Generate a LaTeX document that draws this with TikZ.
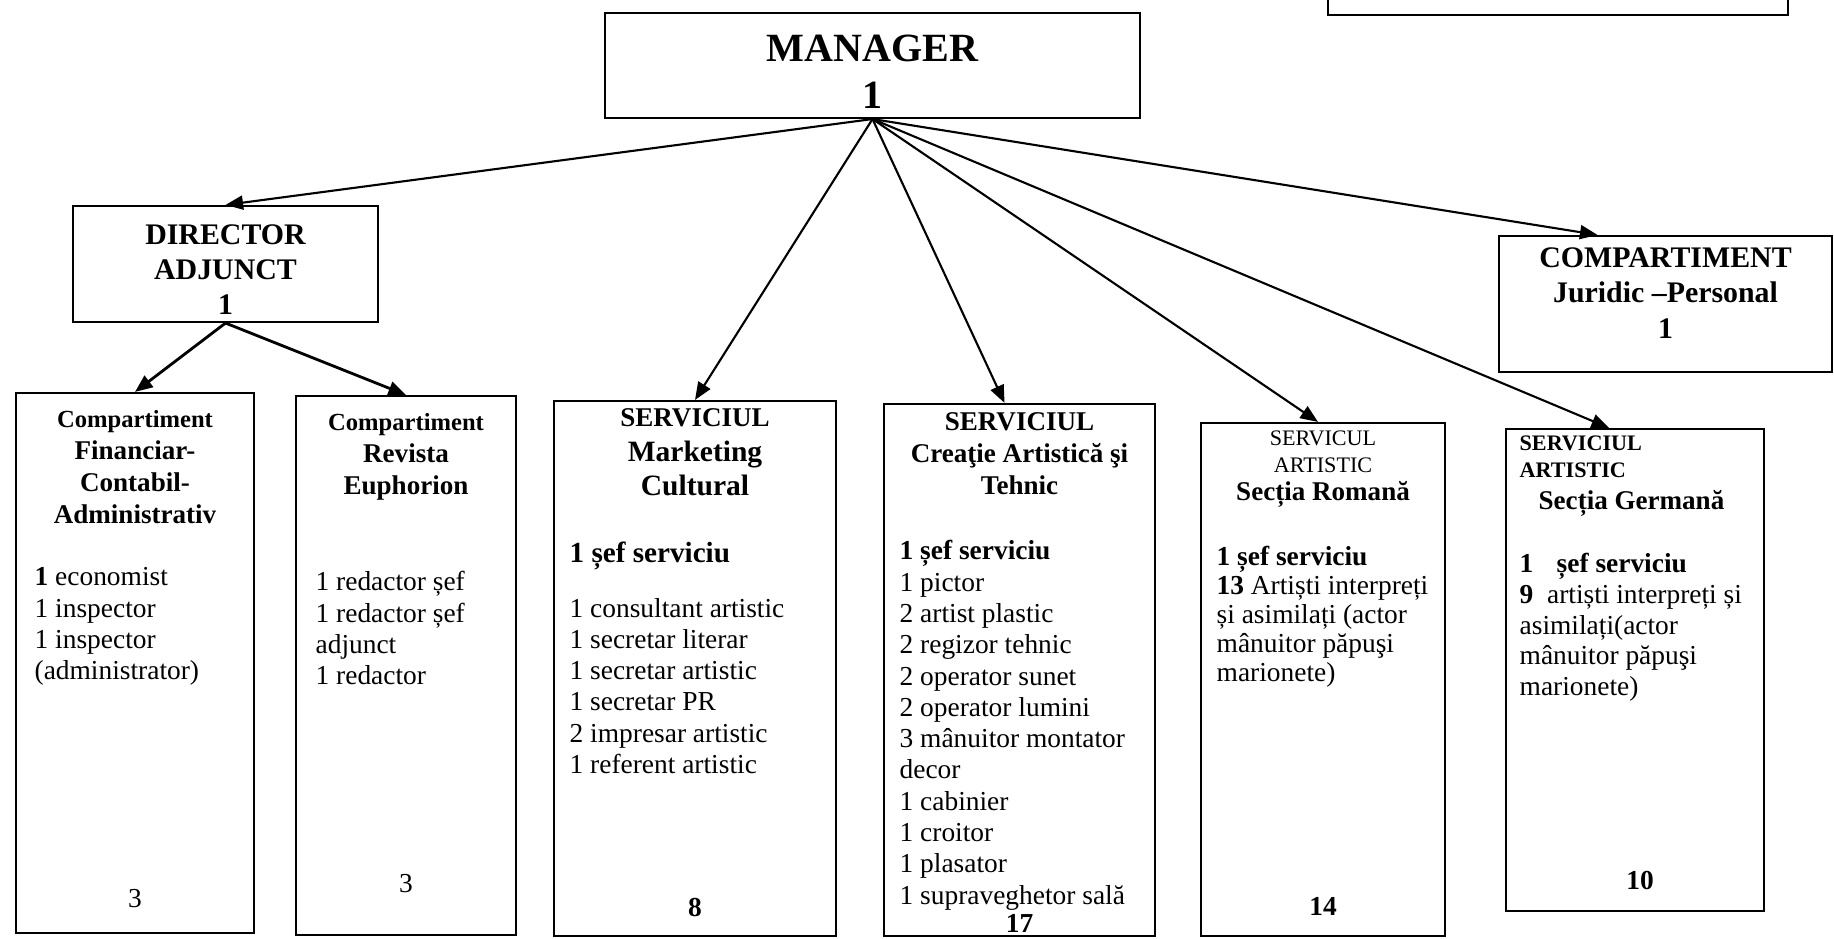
\documentclass[tikz,border=0pt]{standalone}
\usepackage{fontspec}
\setmainfont{Liberation Serif}
\usetikzlibrary{positioning,calc,arrows.meta}

\tikzset{
    box/.style={draw, rectangle, line width=0.6pt, inner sep=0pt},
    arr/.style={-{Triangle[length=5pt,width=4pt]}, line width=0.6pt},
    darr/.style={arr, line width=0.8pt},
    head/.style={align=center, inner sep=0pt, font=\bfseries\fontsize{7.7}{9.1}\selectfont},
    body/.style={align=left, inner sep=0pt, font=\fontsize{7.8}{8.9}\selectfont},
    total/.style={inner sep=0pt, font=\fontsize{7.8}{8.9}\selectfont},
}

\begin{document}
\begin{tikzpicture}
    \useasboundingbox (0,0) rectangle (18.34,9.38);

    \draw[line width=0.6pt] (13.28,9.38) |- (17.88,9.23) -- (17.88,9.38);

    \node[box, minimum width=5.35cm, minimum height=1.05cm, align=center,
        font=\bfseries\fontsize{11.4}{13.4}\selectfont] (manager) at (8.725,8.725) {\rule{0pt}{11pt}MANAGER\\1};
    \node[box, minimum width=3.05cm, minimum height=1.16cm, align=center,
        font=\bfseries\fontsize{8.5}{10}\selectfont] (director) at (2.255,6.74) {\rule{0pt}{9pt}DIRECTOR\\ADJUNCT\\1};
    \node[box, minimum width=3.33cm, minimum height=1.36cm, align=center,
        font=\bfseries\fontsize{8.5}{10}\selectfont] (juridic) at (16.655,6.34) {COMPARTIMENT\\Juridic –Personal\\1\rule[-0.22cm]{0pt}{0pt}};

    \node[box, minimum width=2.38cm, minimum height=5.40cm] (fin) at (1.35,2.75) {};
    \node[box, minimum width=2.20cm, minimum height=5.39cm] (rev) at (4.06,2.725) {};
    \node[box, minimum width=2.82cm, minimum height=5.35cm] (mkt) at (6.95,2.695) {};
    \node[box, minimum width=2.71cm, minimum height=5.32cm] (cre) at (10.195,2.68) {};
    \node[box, minimum width=2.44cm, minimum height=5.13cm] (rom) at (13.23,2.585) {};
    \node[box, minimum width=2.58cm, minimum height=4.82cm] (ger) at (16.35,2.68) {};

    \node[head, below=0.18cm of fin.north] (finhead) {{\fontsize{7}{9.1}\selectfont Compartiment}\\Financiar-\\Contabil-\\Administrativ};
    \node[head, below=0.18cm of rev.north] (revhead) {{\fontsize{7}{9.1}\selectfont Compartiment}\\Revista\\Euphorion};
    \node[head, font=\bfseries\fontsize{7.7}{9.8}\selectfont, below=0.08cm of mkt.north] (mkthead)
        {SERVICIUL\\{\fontsize{8.4}{9.8}\selectfont Marketing}\\{\fontsize{8.4}{9.8}\selectfont Cultural}};
    \node[head, below=0.09cm of cre.north] (crehead) {SERVICIUL\\Creaţie Artistică şi\\Tehnic};
    \node[head, font=\bfseries\fontsize{7.7}{7.8}\selectfont, below=0.08cm of rom.north] (romhead)
        {{\mdseries\fontsize{6.3}{7.8}\selectfont SERVICUL}\\{\mdseries\fontsize{6.3}{7.8}\selectfont ARTISTIC}\\Secția Romană};
    \node[head, align=left, font=\bfseries\fontsize{6.3}{7.6}\selectfont, below right=0.07cm and 0.14cm of ger.north west] (gerhead)
        {SERVICIUL\\ARTISTIC\\[1.6pt]\hspace*{0.19cm}{\fontsize{7.7}{9}\selectfont Secția Germană}};

    \node[body, below right=1.75cm and 0.19cm of fin.north west] (finbody)
        {\textbf{1} economist\\1 inspector\\1 inspector\\(administrator)};
    \node[body, below right=1.76cm and 0.20cm of rev.north west] (revbody)
        {1 redactor șef\\1 redactor șef\\adjunct\\1 redactor};
    \node[body, below right=1.41cm and 0.16cm of mkt.north west] (mktbody)
        {{\bfseries\fontsize{8.3}{8.9}\selectfont 1 șef serviciu}\\[6.7pt]1 consultant artistic\\1 secretar literar\\1 secretar artistic\\1 secretar PR\\2 impresar artistic\\1 referent artistic};
    \node[body, below right=1.37cm and 0.16cm of cre.north west] (crebody)
        {\textbf{1 șef serviciu}\\1 pictor\\2 artist plastic\\2 regizor tehnic\\2 operator sunet\\2 operator lumini\\3 mânuitor montator\\decor\\1 cabinier\\1 croitor\\1 plasator\\1 supraveghetor sală};
    \node[body, font=\fontsize{7.8}{8.25}\selectfont, below right=1.24cm and 0.16cm of rom.north west] (rombody)
        {\textbf{1 șef serviciu}\\\textbf{13} Artiști interpreți\\și asimilați (actor\\mânuitor păpuşi\\marionete)};
    \node[body, font=\fontsize{7.8}{8.7}\selectfont, below right=1.25cm and 0.14cm of ger.north west] (gerbody)
        {\textbf{1\hspace{0.6em} șef serviciu}\\\textbf{9}\hspace{0.5em}artiști interpreți și\\asimilați(actor\\mânuitor păpuşi\\marionete)};

    \node[total, above=0.26cm of fin.south] (fintotal) {3};
    \node[total, above=0.43cm of rev.south] (revtotal) {3};
    \node[total, font=\bfseries\fontsize{7.8}{8.9}\selectfont, above=0.20cm of mkt.south] (mkttotal) {8};
    \node[total, font=\bfseries\fontsize{7.8}{8.9}\selectfont, above=0.04cm of cre.south] (cretotal) {17};
    \node[total, font=\bfseries\fontsize{7.8}{8.9}\selectfont, above=0.21cm of rom.south] (romtotal) {14};
    \node[total, font=\bfseries\fontsize{7.8}{8.9}\selectfont, above=0.22cm of ger.south, xshift=0.05cm] (gertotal) {10};

    \draw[arr] (manager.south) -- (director.north);
    \draw[arr] (manager.south) -- (mkt.north);
    \draw[arr] (manager.south) -- ([xshift=-0.15cm]cre.north);
    \draw[arr] (manager.south) -- ([xshift=-0.05cm]rom.north);
    \draw[arr] (manager.south) -- ([xshift=-0.26cm]ger.north);
    \draw[arr] (manager.south) -- ([xshift=-0.68cm]juridic.north);
    \draw[darr] (director.south) -- (fin.north);
    \draw[darr] (director.south) -- (rev.north);
\end{tikzpicture}
\end{document}
